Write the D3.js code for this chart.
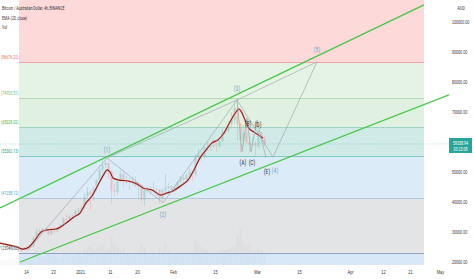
<!DOCTYPE html>
<html>
<head>
<meta charset="utf-8">
<script src="https://cdn.jsdelivr.net/npm/d3@7"></script>
<style>
  body { margin: 0; background: #fff; }
  svg  { display: block; font-family: Roboto, "Liberation Sans", sans-serif; }
</style>
</head>
<body>
<script>
// ************************************************************************************
// DATA
// ************************************************************************************
var firstDay = "2020-12-05"

// daily candles, open = previous close (AUD, thousands)
var closes = [25.3,25.3,25.0,24.3,24.6,24.4,23.8,24.4,24.7,24.8,25.2,28.0,30.2,30.4,31.0,30.4,29.3,31.2,30.3,31.4,32.4,34.4,34.3,35.2,35.4,37.0,37.3,
              38.0,41.8,43.3,42.5,44.3,47.2,50.8,52.4,53.0,50.2,44.0,43.3,47.3,49.3,46.8,47.0,46.8,47.0,45.3,45.7,40.7,44.3,43.7,44.3,44.0,44.2,41.0,44.0,44.7,45.3,44.0,
              45.0,46.7,48.2,47.3,49.0,50.0,49.3,55.0,55.8,55.0,58.0,58.3,58.7,59.0,58.7,60.3,63.7,63.7,66.0,67.3,71.5,66.0,60.5,63.0,60.0,59.0,59.5,58.5,
              63.0,61.0,59.33894]
var highs  = [25.6,25.7,25.6,25.2,24.9,24.8,24.5,24.6,25.0,25.1,25.6,28.5,31.3,30.8,31.4,31.5,31.0,31.6,31.8,31.6,32.6,35.0,36.0,35.6,35.8,37.5,38.2,
              38.8,43.0,45.0,44.0,45.0,47.8,52.0,54.5,53.8,53.5,50.5,46.5,48.0,50.5,50.2,48.8,48.0,48.2,48.6,46.5,45.8,44.8,45.0,45.3,46.8,45.0,44.3,44.4,49.5,46.3,45.6,
              45.8,47.2,48.6,49.0,49.4,51.2,50.5,56.0,57.8,57.0,58.5,60.0,59.8,61.0,60.0,61.5,64.5,65.0,67.0,70.0,73.5,74.5,66.5,65.5,66.5,62.0,61.5,60.5,
              64.0,63.5,62.0]
var lows   = [24.6,25.0,24.8,24.0,23.6,24.0,23.4,23.7,24.2,24.4,24.7,25.1,27.9,29.4,30.0,30.0,28.7,29.0,29.8,29.9,31.0,32.2,33.3,34.0,34.2,35.2,36.3,
              37.0,37.8,41.5,37.5,40.5,43.5,47.0,49.5,51.0,47.5,39.5,42.0,42.5,46.8,45.0,45.8,44.0,45.5,45.0,41.0,39.8,38.8,42.8,42.6,43.5,41.8,39.5,40.3,42.8,43.5,43.0,
              43.5,44.5,46.3,46.0,46.8,48.7,47.2,48.5,54.2,53.6,54.5,57.0,57.0,58.0,56.8,58.0,60.0,62.5,63.0,64.5,66.0,60.5,56.5,58.5,59.5,56.5,58.0,55.5,
              58.0,59.5,58.5]
var volumes = [20,18,22,25,24,20,26,18,16,22,24,45,60,35,30,28,40,38,42,30,28,40,45,38,35,40,42,
               38,60,70,75,60,62,70,80,55,65,110,80,70,60,65,45,40,38,42,55,85,70,40,35,50,45,65,60,90,55,40,
               45,48,50,45,48,52,50,95,85,70,65,60,50,48,55,58,65,60,62,70,75,120,140,90,80,85,55,60,
               70,60,40]

// EMA (20, close)
var emaDates  = ["2020-12-05T08","2020-12-08","2020-12-11","2020-12-13","2020-12-15","2020-12-17","2020-12-19","2020-12-21","2020-12-24",
                 "2020-12-27","2020-12-30","2021-01-01","2021-01-03","2021-01-05","2021-01-07","2021-01-09","2021-01-10","2021-01-11",
                 "2021-01-12","2021-01-14","2021-01-17","2021-01-20","2021-01-22","2021-01-25","2021-01-28","2021-01-30","2021-02-01",
                 "2021-02-04","2021-02-06","2021-02-08","2021-02-10","2021-02-12","2021-02-14","2021-02-16","2021-02-18","2021-02-20",
                 "2021-02-22","2021-02-23","2021-02-24","2021-02-25","2021-02-26","2021-02-28","2021-03-02","2021-03-03"]
var emaValues = [26300,25700,25000,24300,25000,27300,30000,30700,31000,
                 32700,35000,36300,39700,42000,45700,49300,50700,50000,
                 48000,47300,47000,46000,44700,44000,42300,43000,43700,
                 45700,47300,50700,54700,57300,59700,60700,63000,66700,
                 70000,71000,69700,67300,65000,63300,62000,61300]

// fibonacci levels (top and bottom entries lie outside the view)
var fibPrices = [112000, 86676.22, 74793.51, 65028.02, 55362.13, 41258.12, 23048.83, 12000]
var fibLabels = ["", "(86676.22)", "(74793.51)", "(65028.02)", "(55362.13)", "(41258.12)", "(23048.83)", ""]
var fibFrom = "2020-12-11T16", fibTo = "2021-04-25T16"

// elliott waves
var waveLabels = ["", "(1)", "(2)", "(3)", "(4)", "(5)"]
var waveDates  = ["2020-12-14T16", "2021-01-10", "2021-01-28T16", "2021-02-22T08", "2021-03-06T08", "2021-03-21"]
var wavePrices = [24000, 54700, 39700, 74000, 55000, 86700]
var corrLabels = ["(A)", "(B)", "(C)", "(D)", "(E)"]
var corrDates  = ["2021-02-24", "2021-02-25T16", "2021-02-27", "2021-03-01", "2021-03-04"]
var corrPrices = [56700, 68000, 56700, 67300, 54700]

// channel lines
var upperDates = ["2020-12-05T08", "2021-04-25T16"], upperPrices = [38000, 105700]
var lowerDates = ["2020-12-12", "2021-05-04"],       lowerPrices = [20000, 75700]

// axes
var xTickDates  = ["2020-12-14","2020-12-23","2021-01-01","2021-01-11","2021-01-20","2021-02-01","2021-02-15","2021-03-01","2021-03-15","2021-04-01","2021-04-12","2021-04-21","2021-05-01"]
var xTickLabels = ["14","23","2021","11","20","Feb","15","Mar","15","Apr","12","21","May"]
var yTicks      = [20000, 30000, 40000, 50000, 70000, 80000, 90000, 100000]
var lastPrice   = 59338.94, countdown = "03:23:08"

// ************************************************************************************
// HELPERS
// ************************************************************************************
var day = function (s) { return new Date(s + (s.length > 10 ? ":00Z" : "T00:00Z")) }
  , squeeze = function (sel, k) {
		sel.each(function () {
			this.setAttribute("textLength", this.getComputedTextLength() * k)
			this.setAttribute("lengthAdjust", "spacingAndGlyphs")
		})
	}

// ************************************************************************************
// MAIN SCRIPT
// ************************************************************************************
var W = 474, H = 279, paneR = 449, paneB = 265

var x = d3.scaleUtc().domain([day("2020-12-05T08"), day("2021-05-04")]).range([0, paneR])
  , y = d3.scaleLinear().domain([20000, 100000]).range([262, 22])

var svg = d3.select("body").append("svg").attr("width", W).attr("height", H)

svg.append("clipPath").attr("id", "pane")
	.append("rect").attr("width", paneR).attr("height", paneB)

var pane = svg.append("g").attr("clip-path", "url(#pane)")

// fib bands
var bandFill = ["#fdd9da", "#e4f3e4", "#e0f1e1", "#cfeae7", "#dcebf8", "#e3e4e6", "#d8e8f8"]
  , lineCol  = ["#f5a5a9", "#b3dab5", "#9fd3c4", "#7fc8bf", "#b4c8dd", "#8ea3bb"]
  , labelCol = ["#ef6a72", "#66b96a", "#4caf50", "#22a392", "#4d9de6", "#5b6475"]

for (var i = 0; i < fibPrices.length - 1; i++) {
	pane.append("rect")
		.attr("x", x(day(fibFrom))).attr("width", x(day(fibTo)) - x(day(fibFrom)))
		.attr("y", y(fibPrices[i])).attr("height", y(fibPrices[i + 1]) - y(fibPrices[i]))
		.attr("fill", bandFill[i])
}
var fibText = svg.append("g")
fibPrices.slice(1, -1).forEach(function (p, i) {
	pane.append("line")
		.attr("x1", x(day(fibFrom))).attr("x2", x(day(fibTo)))
		.attr("y1", Math.round(y(p)) + .5).attr("y2", Math.round(y(p)) + .5)
		.attr("stroke", lineCol[i]).attr("stroke-width", 1)
	fibText.append("text")
		.attr("x", 1).attr("y", y(p) - 3)
		.attr("font-size", 5.6).attr("fill", labelCol[i])
		.text(fibLabels[i + 1])
})
squeeze(fibText.selectAll("text"), .64)

// volume
var days = closes.map(function (c, i) { return d3.utcDay.offset(day(firstDay), i) })
  , vy = d3.scaleLinear().domain([0, d3.max(volumes)]).range([paneB, paneB - 36])

pane.append("g").selectAll("rect").data(volumes).join("rect")
	.attr("x", function (v, i) { return x(d3.utcHour.offset(days[i], 12)) - 1 })
	.attr("width", 2)
	.attr("y", function (v) { return vy(v) })
	.attr("height", function (v) { return paneB - vy(v) })
	.attr("fill", "#8d8f96").attr("opacity", .07)

// candles
var candles = closes.map(function (c, i) {
	return { t: d3.utcHour.offset(days[i], 12), o: (i ? closes[i - 1] : c) * 1000, c: c * 1000, h: highs[i] * 1000, l: lows[i] * 1000 }
})
var cg = pane.append("g").attr("opacity", .55)
cg.selectAll("line").data(candles).join("line")
	.attr("x1", function (d) { return x(d.t) }).attr("x2", function (d) { return x(d.t) })
	.attr("y1", function (d) { return y(d.h) }).attr("y2", function (d) { return y(d.l) })
	.attr("stroke", function (d) { return d.c >= d.o ? "#7cc6b5" : "#ef9a9a" }).attr("stroke-width", .7)
cg.selectAll("rect").data(candles).join("rect")
	.attr("x", function (d) { return x(d.t) - 1 }).attr("width", 2)
	.attr("y", function (d) { return y(Math.max(d.o, d.c)) })
	.attr("height", function (d) { return Math.max(.7, Math.abs(y(d.o) - y(d.c))) })
	.attr("fill", function (d) { return d.c >= d.o ? "#7cc6b5" : "#ef9a9a" })

// current price line
pane.append("line")
	.attr("x1", 0).attr("x2", paneR).attr("y1", y(lastPrice)).attr("y2", y(lastPrice))
	.attr("stroke", "#26a69a").attr("stroke-width", .6).attr("stroke-dasharray", "1,1.5").attr("opacity", .6)

// ema
var ema = emaDates.map(function (d, i) { return [x(day(d)), y(emaValues[i])] })
pane.append("path").attr("d", d3.line().curve(d3.curveMonotoneX)(ema))
	.attr("fill", "none").attr("stroke", "#f4c7c3").attr("stroke-width", 2.2)
pane.append("path").attr("d", d3.line().curve(d3.curveMonotoneX)(ema))
	.attr("fill", "none").attr("stroke", "#8a1c1c").attr("stroke-width", 1.1)

// wave lines
var wline = d3.line()
  , wp = waveDates.map(function (d, i) { return [x(day(d)), y(wavePrices[i])] })
  , cp = corrDates.map(function (d, i) { return [x(day(d)), y(corrPrices[i])] })

var wavePaths = [
	[wp[0], wp[1], wp[2], wp[3]],
	[wp[3]].concat(cp),
	[wp[3], wp[4], wp[5]],
	[wp[1], wp[3], wp[5]]
]
wavePaths.forEach(function (pts) {
	pane.append("path").attr("d", wline(pts))
		.attr("fill", "none").attr("stroke", "#a3a7b0").attr("stroke-width", .7)
})

// channel
;[[upperDates, upperPrices], [lowerDates, lowerPrices]].forEach(function (c) {
	pane.append("line")
		.attr("x1", x(day(c[0][0]))).attr("y1", y(c[1][0]))
		.attr("x2", x(day(c[0][1]))).attr("y2", y(c[1][1]))
		.attr("stroke", "#45c645").attr("stroke-width", 1.3)
})

// wave labels
var waveDy = [0, -8, 12, -11, 14, -12]
wp.forEach(function (p, i) {
	if (!waveLabels[i]) return
	pane.append("text").attr("x", p[0] + (i == 4 ? 2 : 0)).attr("y", p[1] + waveDy[i] + 2)
		.attr("text-anchor", "middle").attr("font-size", 7).attr("fill", "#6f9ec6")
		.text(waveLabels[i])
})
var corrDy = [11, 6, 11, 5, 14]
cp.forEach(function (p, i) {
	pane.append("text").attr("x", p[0] + 1).attr("y", p[1] + corrDy[i] + 2)
		.attr("text-anchor", "middle").attr("font-size", 7).attr("fill", "#2f323b")
		.text(corrLabels[i])
})
squeeze(pane.selectAll("text"), .72)

// legend
var legend = svg.append("g").attr("font-size", 5.6).attr("fill", "#30333c")
legend.append("text").attr("x", 2).attr("y", 10).text("Bitcoin / Australian Dollar, 4h, BINANCE")
legend.append("text").attr("x", 2).attr("y", 20).text("EMA (20, close)")
legend.append("text").attr("x", 2).attr("y", 29).text("Vol")
squeeze(legend.selectAll("text"), .64)

// axes
var xAxis = svg.append("g").attr("transform", "translate(0," + paneB + ")")
	.call(d3.axisBottom(x).tickValues(xTickDates.map(day)).tickSize(0).tickPadding(5)
		.tickFormat(function (d, i) { return xTickLabels[i] }))
xAxis.select(".domain").remove()
xAxis.selectAll("text").attr("font-size", 5.6).attr("fill", "#30333c").attr("font-family", null)
squeeze(xAxis.selectAll("text"), .7)

var yAxis = svg.append("g").attr("transform", "translate(" + (paneR + 2) + ",0)")
	.call(d3.axisRight(y).tickValues(yTicks).tickSize(0).tickPadding(1)
		.tickFormat(function (d) { return d3.format(".2f")(d) }))
yAxis.select(".domain").remove()
yAxis.selectAll("text").attr("font-size", 4.8).attr("fill", "#30333c").attr("font-family", null)
squeeze(yAxis.selectAll("text"), .76)

svg.append("text").attr("x", 461).attr("y", 10).attr("text-anchor", "middle")
	.attr("font-size", 5.6).attr("fill", "#30333c").text("AUD")
	.call(squeeze, .7)

// last price box
var py = y(lastPrice)
svg.append("rect").attr("x", paneR).attr("y", py - 6).attr("width", 23).attr("height", 15).attr("fill", "#26a69a")
svg.append("text").attr("x", paneR + 11.5).attr("y", py + 1).attr("text-anchor", "middle")
	.attr("font-size", 5.2).attr("fill", "#fff").text(d3.format(".2f")(lastPrice)).call(squeeze, .7)
svg.append("text").attr("x", paneR + 11.5).attr("y", py + 7).attr("text-anchor", "middle")
	.attr("font-size", 5.2).attr("fill", "#fff").text(countdown).call(squeeze, .7)
</script>
</body>
</html>
